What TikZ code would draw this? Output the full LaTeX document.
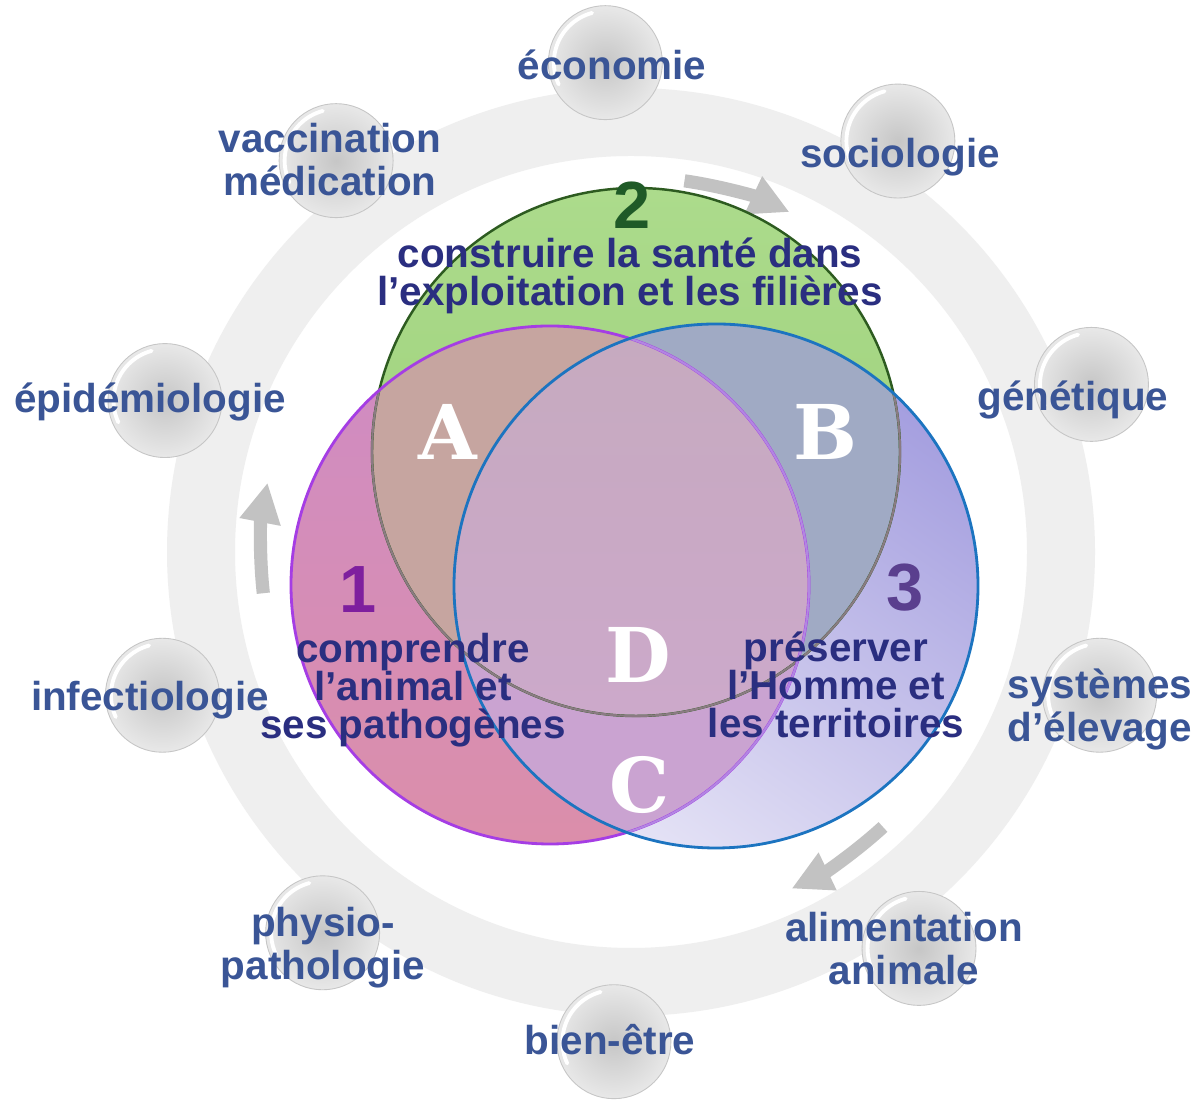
\documentclass[tikz,border=0pt]{standalone}
\usepackage{fontspec}
\setmainfont{Liberation Sans}
\newfontfamily\zonefont{DejaVu Serif}
\usepackage{tikz}
\usetikzlibrary{arrows.meta}
\definecolor{ringgray}{HTML}{EFEFEF}
\definecolor{arrgray}{HTML}{C2C2C2}
\definecolor{topicblue}{HTML}{3A5596}
\definecolor{themeblue}{HTML}{2A2E80}
\definecolor{pinktop}{HTML}{CF8CC4}
\definecolor{pinkbot}{HTML}{DB8EAA}
\definecolor{grntop}{HTML}{ACDB8C}
\definecolor{grnbot}{HTML}{98CD74}
\definecolor{bluetop}{HTML}{A49EDF}
\definecolor{bluelow}{HTML}{E6E4F6}
\definecolor{regA}{HTML}{C6A5A0}
\definecolor{regB}{HTML}{A0AAC4}
\definecolor{regC}{HTML}{CAA3D1}
\definecolor{regMtop}{HTML}{C6AABF}
\definecolor{regMbot}{HTML}{CEA8CE}
\definecolor{grnline}{HTML}{2D5B20}
\definecolor{grnmuted}{HTML}{8A7B82}
\definecolor{pinkline}{HTML}{A53DE4}
\definecolor{pinkmuted}{HTML}{B286E2}
\definecolor{blueline}{HTML}{1C74C0}
\definecolor{numone}{HTML}{7E1F9E}
\definecolor{numtwo}{HTML}{1F5A27}
\definecolor{numthree}{HTML}{5A3F8E}
\definecolor{ballgray}{HTML}{C6C6C6}
\tikzset{
  ball/.style={circle,inner sep=0pt,minimum size=2.28cm,
               draw=gray!45,line width=0.5pt,
               inner color=ballgray,outer color=gray!18,
               path picture={\draw[white,line width=2.2pt,line cap=round]
                 ([shift={(105:1.03cm)}]path picture bounding box.center)
                 arc[start angle=105,end angle=205,radius=1.03cm];}},
  topic/.style={text=topicblue,font=\fontsize{23}{24.5}\selectfont\bfseries,
                align=center,inner sep=0pt},
  theme/.style={text=themeblue,font=\fontsize{23}{21.5}\selectfont\bfseries,
                align=center,inner sep=0pt},
  themenum/.style={font=\fontsize{38}{38}\selectfont\bfseries,inner sep=0pt},
  zone/.style={text=white,font=\zonefont\fontsize{43}{43}\selectfont\bfseries,
               inner sep=0pt},
  cyclearr/.style={draw=arrgray,line width=7.5pt,
                   -{Triangle[length=0.8cm,width=0.78cm]}}
}
\begin{document}
\begin{tikzpicture}[x=0.02cm,y=0.02cm]
  \useasboundingbox (0,0) rectangle (1200,1104);
  \fill[white] (0,0) rectangle (1200,1104);
  \coordinate (O) at (631,552);

  % outer ring and the cycle arrows
  \fill[ringgray,even odd rule] (O) circle[radius=464] (O) circle[radius=396];
  \draw[cyclearr] ([shift={(81.8:375)}]O) arc[start angle=81.8,end angle=65,radius=375];
  \draw[cyclearr] ([shift={(-47.5:373)}]O) arc[start angle=-47.5,end angle=-64.5,radius=373];
  \draw[cyclearr] ([shift={(186.4:370)}]O) arc[start angle=186.4,end angle=169.2,radius=370];

  % balls
  \foreach \i/\a in {0/93,1/57,2/20,3/-17,4/-54,5/-92,6/-129,7/-163,8/162,9/127}
    \node[ball] (b\i) at ([shift={(\a:490)}]O) {};

  % Venn circles
  \coordinate (cP) at (550,519);
  \coordinate (cG) at (636,652);
  \coordinate (cB) at (716,518);
  \shade[top color=pinktop,bottom color=pinkbot] (cP) circle[radius=259];
  \shade[top color=grntop,bottom color=grnbot] (cG) circle[radius=264];
  \shade[top color=bluetop,middle color=bluetop,bottom color=bluelow,shading angle=-35]
    (cB) circle[radius=262];
  \begin{scope}
    \clip (cP) circle[radius=259];
    \fill[regA] (cG) circle[radius=264];
    \fill[regC] (cB) circle[radius=262];
  \end{scope}
  \begin{scope}
    \clip (cG) circle[radius=264];
    \fill[regB] (cB) circle[radius=262];
    \clip (cP) circle[radius=259];
    \shade[top color=regMtop,bottom color=regMbot] (cB) circle[radius=262];
  \end{scope}
  \draw[grnline,line width=1.4pt] (cG) circle[radius=264];
  \begin{scope}
    \clip (cP) circle[radius=259] (cB) circle[radius=262];
    \draw[grnmuted,line width=1.2pt] (cG) circle[radius=264];
  \end{scope}
  \draw[pinkline,line width=1.6pt] (cP) circle[radius=259];
  \begin{scope}
    \clip (cB) circle[radius=262];
    \draw[pinkmuted,line width=1.2pt] (cP) circle[radius=259];
  \end{scope}
  \draw[blueline,line width=1.6pt] (cB) circle[radius=262];

  % zone letters
  \node[zone] (zA) at (448,672) {A};
  \node[zone] (zB) at (825,672) {B};
  \node[zone] (zD) at (638,449) {D};
  \node[zone] (zC) at (640,319) {C};

  % themes
  \node[themenum,text=numtwo] (n2) at (632,899) {2};
  \node[theme] (t2) at (630,828) {construire la santé dans\\l’exploitation et les filières};
  \node[themenum,text=numone] (n1) at (358,514) {1};
  \node[theme] (t1) at (413,414) {comprendre\\l’animal et\\ses pathogènes};
  \node[themenum,text=numthree] (n3) at (905,516) {3};
  \node[theme] (t3) at (836,419) {préserver\\l’Homme et\\les territoires};

  % topics round the ring
  \node[topic] (lecon) at (612,1039) {économie};
  \node[topic] (lsoc) at (900,947) {sociologie};
  \node[topic] (lgen) at (1073,704) {génétique};
  \node[topic] (lsys) at (1100,395) {systèmes\\d’élevage};
  \node[topic] (lalim) at (904,155) {alimentation\\animale};
  \node[topic] (lbien) at (610,64) {bien-être};
  \node[topic] (lphys) at (323,156) {physio-\\pathologie};
  \node[topic] (linf) at (150,404) {infectiologie};
  \node[topic] (lepi) at (150,702) {épidémiologie};
  \node[topic] (lvac) at (330,944) {vaccination\\médication};
\end{tikzpicture}
\end{document}
